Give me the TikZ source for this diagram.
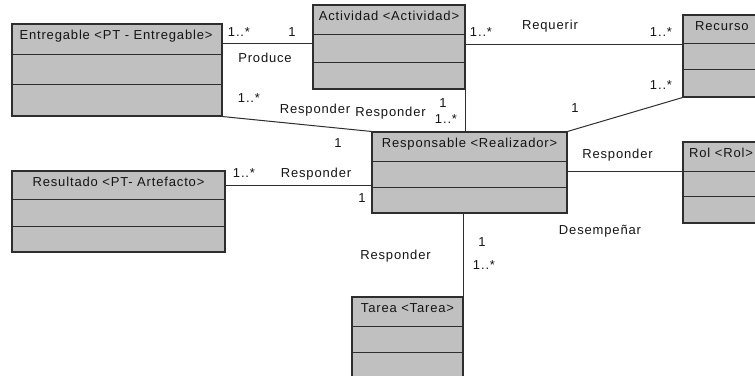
\documentclass[tikz,border=0pt]{standalone}
\usepackage{fontspec}
\setmainfont{Liberation Sans}[LetterSpace=6.5]
\usetikzlibrary{fit}
\definecolor{umlfill}{HTML}{C0C0C0}
\definecolor{umlline}{HTML}{2E2E2E}
\definecolor{umltext}{HTML}{141414}
\tikzset{
  cls/.style={draw=umlline, fill=umlfill, line width=1.1pt, inner sep=0pt},
  sect/.style={draw=umlline, line width=1pt},
  conn/.style={draw=umlline, line width=1pt},
  txt/.style={text=umltext, inner sep=0pt, anchor=base,
    font=\fontsize{13pt}{15pt}\selectfont},
  lbl/.style={txt},
}
% class box: name, x1, y1, x2, y2, first divider, second divider
\newcommand\umlclass[7]{%
  \node[cls, fit={(#2,#3) (#4,#5)}] (#1) {};
  \draw[sect] (#1.west |- #2,#6) -- (#1.east |- #4,#6);
  \draw[sect] (#1.west |- #2,#7) -- (#1.east |- #4,#7);
}
\begin{document}
\begin{tikzpicture}[x=1pt, y=-1pt]
  \useasboundingbox (0,0) rectangle (755,375);
  \clip (0,0) rectangle (755,375);

  % classes
  \umlclass{ent}{12}{24}{222}{116}{54}{84}
  \umlclass{act}{313}{5}{465}{89}{34}{62}
  \umlclass{rec}{683}{15}{800}{97}{43}{69}
  \umlclass{resp}{372}{132}{567}{213}{161}{187}
  \umlclass{rol}{683}{142}{800}{223}{171}{196}
  \umlclass{res}{12}{171}{225}{252}{199}{226}
  \umlclass{tar}{352}{297}{463}{400}{326}{352}

  % class titles
  \node[txt] (ent-t)  at (116,39)  {Entregable <PT - Entregable>};
  \node[txt] (act-t)  at (389,20)  {Actividad <Actividad>};
  \node[txt, anchor=base west] (rec-t) at (695,30) {Recurso};
  \node[txt] (resp-t) at (469.5,147) {Responsable <Realizador>};
  \node[txt, anchor=base west] (rol-t) at (689,157) {Rol <Rol>};
  \node[txt] (res-t)  at (118.5,186) {Resultado <PT- Artefacto>};
  \node[txt] (tar-t)  at (407.5,312) {Tarea <Tarea>};

  % associations
  \draw[conn] (ent.east |- 0,43) -- (act.west |- 0,43);
  \draw[conn] (act.east |- 0,44) -- (rec.west |- 0,44);
  \draw[conn] (ent.south east) -- (resp.north west);
  \draw[conn] (act.south east) -- (act.south east |- resp.north);
  \draw[conn] (resp.north east) -- (rec.south west);
  \draw[conn] (res.east |- 0,185) -- (resp.west |- 0,185);
  \draw[conn] (resp.east |- 0,171) -- (rol.west |- 0,171);
  \draw[conn] (tar.north east |- resp.south) -- (tar.north east);

  % role names and multiplicities
  \node[lbl] (m1)  at (239,36.5) {1..*};
  \node[lbl] (m2)  at (292,36.5) {1};
  \node[lbl] (a1)  at (265,62)   {Produce};
  \node[lbl] (a2)  at (550,29.5) {Requerir};
  \node[lbl] (m3)  at (481,36.5) {1..*};
  \node[lbl] (m4)  at (661,36.5) {1..*};
  \node[lbl] (m5)  at (661,89.5) {1..*};
  \node[lbl] (m6)  at (575,112.5) {1};
  \node[lbl] (m7)  at (249,102.5) {1..*};
  \node[lbl] (a3)  at (315,113)  {Responder};
  \node[lbl] (a4)  at (390.5,116) {Responder};
  \node[lbl] (m8)  at (443,107.5) {1};
  \node[lbl] (m9)  at (446,123)  {1..*};
  \node[lbl] (m10) at (338,147.5) {1};
  \node[lbl] (m11) at (244,177.5) {1..*};
  \node[lbl] (a5)  at (316,177.5) {Responder};
  \node[lbl] (m12) at (362,202.5) {1};
  \node[lbl] (a6)  at (617.5,158.5) {Responder};
  \node[lbl] (a7)  at (600,234)  {Desempeñar};
  \node[lbl] (m13) at (482,246.5) {1};
  \node[lbl] (m14) at (484,269.5) {1..*};
  \node[lbl] (a8)  at (395.5,259) {Responder};
\end{tikzpicture}
\end{document}
